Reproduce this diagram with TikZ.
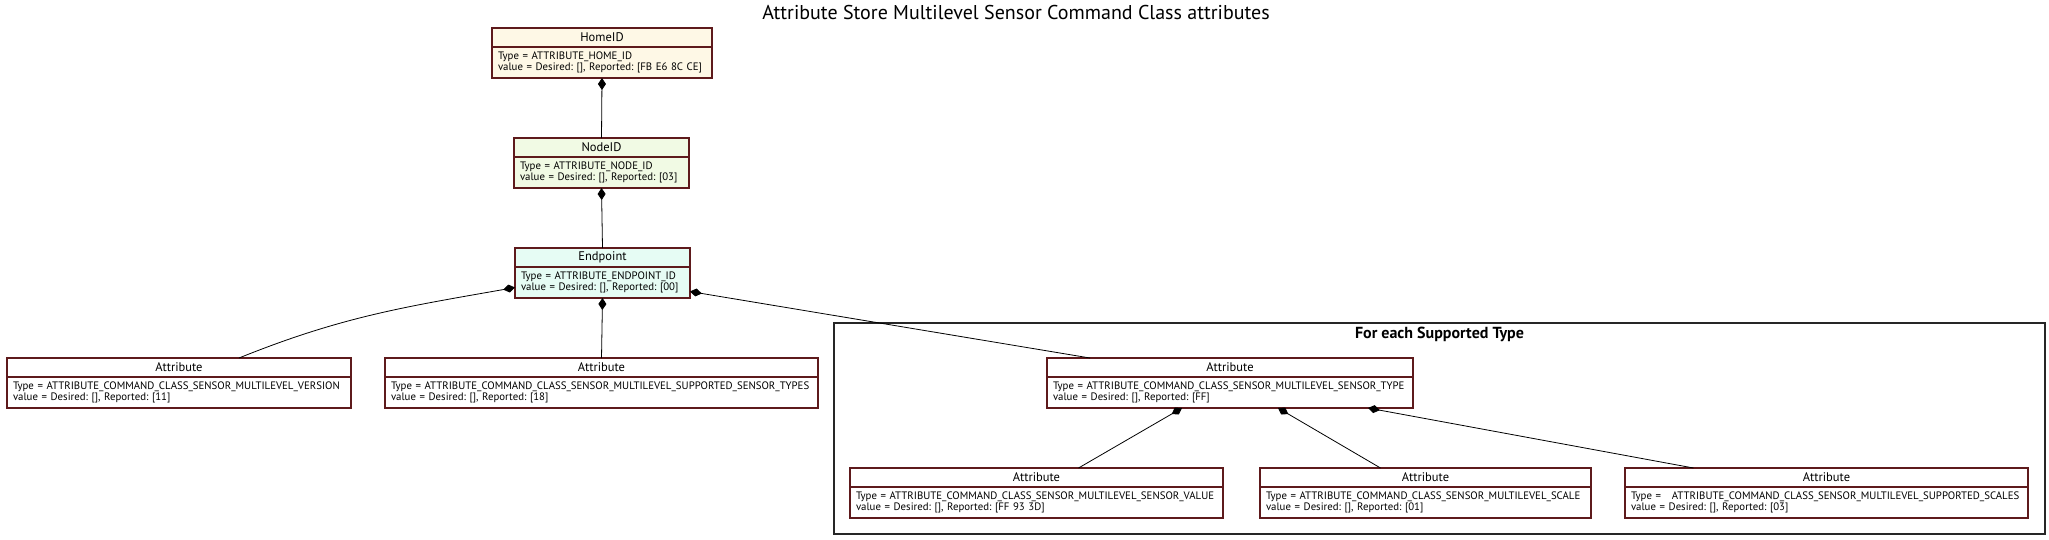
\documentclass[tikz,border=0pt]{standalone}
\usepackage{fontspec}
\setmainfont{PT Sans}
\usetikzlibrary{arrows.meta,positioning}
\frenchspacing
\definecolor{boxC}{HTML}{5E1A1C}
\definecolor{homeC}{HTML}{FEF8E6}
\definecolor{nodeC}{HTML}{F1FAE4}
\definecolor{epC}{HTML}{E6FCF4}
\tikzset{
  hdr/.style={draw=boxC, line width=1.5pt, outer sep=0pt, inner sep=0pt, minimum height=19pt, anchor=north, font=\fontsize{12.5}{14}\selectfont},
  bdy/.style={draw=boxC, line width=1.5pt, outer sep=0pt, inner xsep=6pt, inner ysep=0pt, minimum height=31pt, align=left, font=\fontsize{10.8}{11}\selectfont},
  comp/.style={-{Diamond[length=12pt,width=8pt]}, line width=0.8pt},
  frm/.style={draw=black!85, line width=1.2pt}
}
\newcommand\clsbox[8]{%
  \node[hdr, fill=#5, minimum width=#4pt] (#1H) at (#2,#3) {#6};
  \node[bdy, fill=#5, text width=#4pt-12pt, below=0pt of #1H] (#1) {\mbox{Type = #7}\\\mbox{value = Desired: [], Reported: [#8]}};}

\begin{document}
\begin{tikzpicture}[x=1pt,y=-1pt]
\useasboundingbox (0,0) rectangle (2049,539);
\node[font=\fontsize{20}{22}\selectfont] (title) at (1016,12) {Attribute Store Multilevel Sensor Command Class attributes};

\draw[frm] (834,323) rectangle (2045,534);
\node[font=\fontsize{16}{18}\bfseries] (looplbl) at (1439.5,334) {For each Supported Type};

\clsbox{home}{602}{28}{220}{homeC}{HomeID}{ATTRIBUTE\_HOME\_ID}{FB E6 8C CE}
\clsbox{nid}{601.5}{138}{175}{nodeC}{NodeID}{ATTRIBUTE\_NODE\_ID}{03}
\clsbox{ep}{602.5}{248}{175}{epC}{Endpoint}{ATTRIBUTE\_ENDPOINT\_ID}{00}
\clsbox{ver}{179}{358}{344}{white}{Attribute}{ATTRIBUTE\_COMMAND\_CLASS\_SENSOR\_MULTILEVEL\_VERSION}{11}
\clsbox{types}{601.5}{358}{433}{white}{Attribute}{ATTRIBUTE\_COMMAND\_CLASS\_SENSOR\_MULTILEVEL\_SUPPORTED\_SENSOR\_TYPES}{18}
\clsbox{stype}{1230}{358}{366}{white}{Attribute}{ATTRIBUTE\_COMMAND\_CLASS\_SENSOR\_MULTILEVEL\_SENSOR\_TYPE}{FF}
\clsbox{sval}{1036.5}{468}{373}{white}{Attribute}{ATTRIBUTE\_COMMAND\_CLASS\_SENSOR\_MULTILEVEL\_SENSOR\_VALUE}{FF 93 3D}
\clsbox{scale}{1425.5}{468}{331}{white}{Attribute}{ATTRIBUTE\_COMMAND\_CLASS\_SENSOR\_MULTILEVEL\_SCALE}{01}
\clsbox{sscales}{1826.5}{468}{403}{white}{Attribute}{\ \ ATTRIBUTE\_COMMAND\_CLASS\_SENSOR\_MULTILEVEL\_SUPPORTED\_SCALES}{03}

\draw[comp] (nidH.north) -- (home.south);
\draw[comp] (epH.north) -- (nid.south);
\draw[comp] ([xshift=60pt]verH.north) to[out=22, in=190] ([yshift=-5pt]ep.west);
\draw[comp] (typesH.north) -- (ep.south);
\draw[comp] ([xshift=-140pt]stypeH.north) -- ([yshift=-9pt]ep.east);
\draw[comp] ([xshift=42pt]svalH.north) -- ([xshift=-48pt]stype.south);
\draw[comp] ([xshift=-45pt]scaleH.north) -- ([xshift=48pt]stype.south);
\draw[comp] ([xshift=-133pt]sscalesH.north) -- ([xshift=138pt]stype.south);
\end{tikzpicture}
\end{document}
